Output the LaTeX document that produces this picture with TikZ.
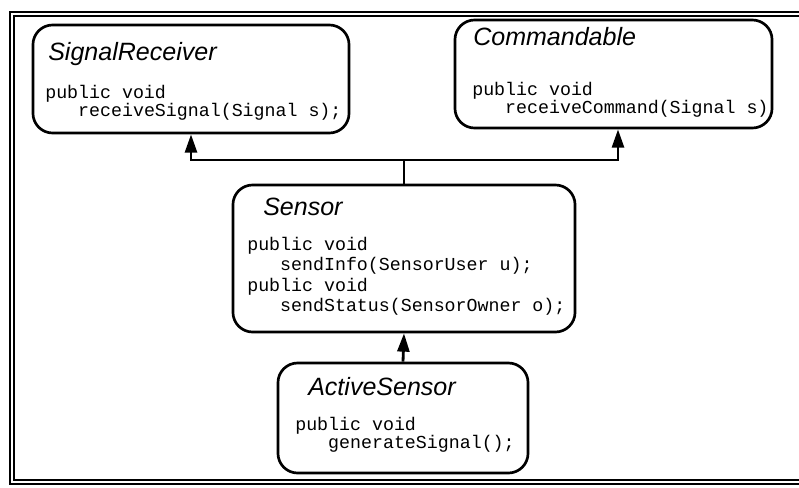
\documentclass[tikz,border=0pt]{standalone}
\usepackage{fontspec}
\setsansfont{Liberation Sans}
\setmonofont{Liberation Mono}
\usetikzlibrary{arrows.meta}

\newcommand{\ind}{\phantom{xxx}}

\tikzset{
    classbox/.style={draw, line width=1.9pt, rounded corners=14pt, inner sep=0pt},
    classname/.style={font=\sffamily\itshape\fontsize{17.8}{21}\selectfont, inner sep=0pt, anchor=base west},
    codetext/.style={font=\ttfamily\fontsize{13}{#1}\selectfont, inner sep=0pt, anchor=base west},
    inherit/.style={line width=2pt, -{Triangle[length=13pt, width=8.5pt]}},
    link/.style={line width=2pt},
    frameline/.style={line width=0.9pt}
}

\begin{document}
\begin{tikzpicture}[x=0.025cm, y=-0.025cm]
    \useasboundingbox (0,0) rectangle (799,487);

    % Double frame
    \draw[frameline] (799,12) -- (10,12) -- (10,484) -- (799,484);
    \draw[frameline] (799,16) -- (14,16) -- (14,480) -- (799,480);

    % Interfaces
    \node[classbox, minimum width=7.9cm, minimum height=2.7cm] (recv) at (191,79) {};
    \node[classname] (recvname) at (48,60) {SignalReceiver};
    \node[codetext=10.7pt] (recvcode) at (45,98)
        {\vtop{\hbox{public void}\hbox{\ind receiveSignal(Signal s);}}};

    \node[classbox, minimum width=7.925cm, minimum height=2.7cm] (cmd) at (613.5,74) {};
    \node[classname] (cmdname) at (473,45) {Commandable};
    \node[codetext=12.8pt] (cmdcode) at (472,95)
        {\vtop{\hbox{public void}\hbox{\ind receiveCommand(Signal s)}}};

    % Classes
    \node[classbox, minimum width=8.55cm, minimum height=3.675cm] (sens) at (404,258.5) {};
    \node[classname] (sensname) at (263,215) {Sensor};
    \node[codetext=14.6pt] (senscode) at (247,250)
        {\vtop{\hbox{public void}\hbox{\ind sendInfo(SensorUser u);}%
               \hbox{public void}\hbox{\ind sendStatus(SensorOwner o);}}};

    \node[classbox, minimum width=6.25cm, minimum height=2.75cm] (act) at (403,418) {};
    \node[classname] (actname) at (308,395) {ActiveSensor};
    \node[codetext=12.8pt] (actcode) at (295,430)
        {\vtop{\hbox{public void}\hbox{\ind generateSignal();}}};

    % Inheritance
    \coordinate (join) at (404,160);
    \draw[link] (sens.north) -- (join);
    \draw[inherit] (join) -| (recv.south);
    \draw[inherit] (join) -| ([xshift=0.1125cm]cmd.south);
    \draw[inherit] (act.north) -- (sens.south);
\end{tikzpicture}
\end{document}
